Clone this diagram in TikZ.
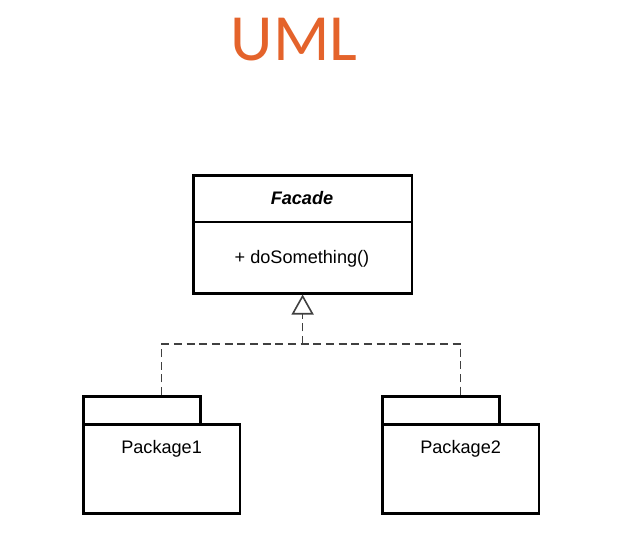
\documentclass[tikz,border=0pt]{standalone}
\usepackage{xcolor}
\usepackage{fontspec}
\setmainfont{Liberation Sans}
\newfontfamily\titlefont{Carlito}
\usetikzlibrary{arrows.meta}
\definecolor{umlorange}{RGB}{228,99,43}
\tikzset{
  umlbox/.style={draw, line width=1.9pt, inner sep=0pt, anchor=north west},
  umltext/.style={inner sep=0.75pt, font=\fontsize{13.6}{16}\selectfont},
  dashline/.style={line width=1.2pt, dash pattern=on 6pt off 3.5pt, color=black!75},
}
\begin{document}
\begin{tikzpicture}[x=0.75pt,y=0.75pt,yscale=-1,xscale=1]
\path[use as bounding box] (0,0) rectangle (622,550);

% Title
\node (title) [anchor=base, inner sep=0pt, text=umlorange, font=\titlefont\fontsize{49.5}{60}\selectfont] at (294,60) {UML};

% Facade class
\node (facade) [umlbox, minimum width=164pt, minimum height=88.5pt] at (192,174) {};
\draw [line width=1.9pt] (facade.west |- 0,222) -- (facade.east |- 0,222) ;
% Text Node
\node (facadename) [umltext, font=\fontsize{13.6}{16}\selectfont\bfseries\itshape] at (302,198) {Facade};
% Text Node
\node (facadeop) [umltext] at (302,259) {+ doSomething()};

% Packages
\node (tab1) [umlbox, minimum width=88pt, minimum height=21pt] at (82,395) {};
\node (pkg1) [umlbox, minimum width=117.5pt, minimum height=67pt] at (82,423) {};
\node (tab2) [umlbox, minimum width=88pt, minimum height=21pt] at (381,395) {};
\node (pkg2) [umlbox, minimum width=117.5pt, minimum height=67pt] at (381,423) {};
% Text Node
\node (pkgname1) [umltext] at (pkg1.center |- 0,449) {Package1};
% Text Node
\node (pkgname2) [umltext] at (pkg2.center |- 0,449) {Package2};

% Realization
\coordinate (split) at (facade.south |- 0,344);
\draw [dashline, -{Triangle[open, width=16.5pt, length=15pt, line width=1.2pt]}] (split) -- (facade.south) ;
\draw [dashline] (pkg1.center |- tab1.north) |- (split) -| (pkg2.center |- tab2.north) ;

\end{tikzpicture}
\end{document}
